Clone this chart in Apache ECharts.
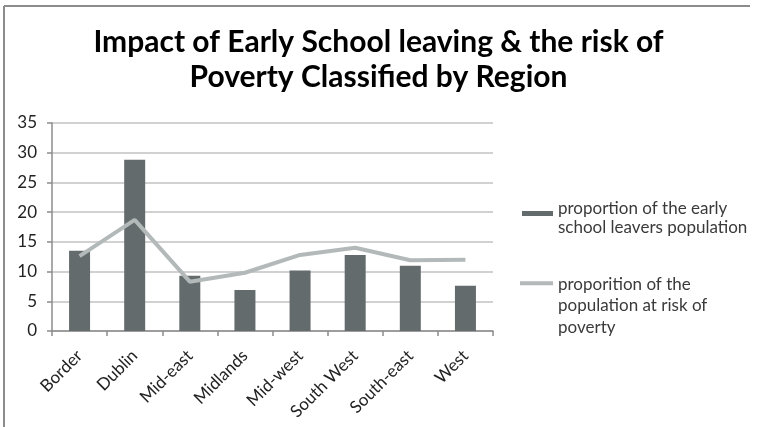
<!DOCTYPE html>
<html>
<head>
<meta charset="utf-8">
<script src="https://cdn.jsdelivr.net/npm/echarts@6/dist/echarts.min.js"></script>
<style>
html,body{margin:0;padding:0;background:#fff;}
#chart{width:757px;height:427px;}
</style>
</head>
<body>
<div id="chart"></div>
<script>
var categories = ['Border', 'Dublin', 'Mid-east', 'Midlands', 'Mid-west', 'South West', 'South-east', 'West'];
var earlySchoolLeavers = [13.5, 28.8, 9.3, 6.9, 10.2, 12.8, 11.0, 7.6];
var riskOfPoverty = [12.6, 18.7, 8.3, 9.8, 12.8, 14.0, 11.9, 12.0];
var yTicks = [0, 5, 10, 15, 20, 25, 30, 35];
var barName = 'proportion of the early school leavers population';
var lineName = 'proporition of the population at risk of poverty';
var barLegendLines = ['proportion of the early', 'school leavers population'];
var lineLegendLines = ['proporition of the', 'population at risk of', 'poverty'];
var titleText = 'Impact of Early School leaving & the risk of\nPoverty Classified by Region';

var FONT = 'Lato, "Open Sans", sans-serif';
function legendRich(lines) {
  return '{s|\u00a0}\n' + lines.map(function (l) { return '{t|' + l + '}'; }).join('\n');
}
var chart = echarts.init(document.getElementById('chart'), null, {renderer: 'canvas'});
chart.setOption({
  backgroundColor: '#ffffff',
  animation: false,
  title: {
    text: titleText,
    left: 'center',
    top: 20,
    textStyle: {fontFamily: FONT, fontWeight: 'bold', fontSize: 30, color: '#000', lineHeight: 35}
  },
  graphic: [
    {type: 'line', shape: {x1: 4, y1: 6, x2: 750, y2: 6}, style: {stroke: '#8c8c8c', lineWidth: 2}},
    {type: 'line', shape: {x1: 4, y1: 6, x2: 4, y2: 427}, style: {stroke: '#8c8c8c', lineWidth: 2}}
  ],
  legend: [
    {
      data: [{name: barName, icon: 'rect'}],
      left: 522,
      top: 192.5,
      padding: 0,
      orient: 'vertical',
      itemWidth: 31,
      itemHeight: 5,
      itemGap: 0,
      formatter: function () { return legendRich(barLegendLines); },
      textStyle: {
        fontFamily: FONT, fontSize: 17, color: '#3a3a3a',
        rich: {
          s: {fontSize: 4, lineHeight: 9},
          t: {fontFamily: FONT, fontSize: 17, color: '#3a3a3a', lineHeight: 19}
        }
      }
    },
    {
      data: [{name: lineName, icon: 'rect'}],
      left: 520,
      top: 249,
      padding: 0,
      orient: 'vertical',
      itemWidth: 33,
      itemHeight: 4,
      itemGap: 0,
      formatter: function () { return legendRich(lineLegendLines); },
      textStyle: {
        fontFamily: FONT, fontSize: 17, color: '#3a3a3a',
        rich: {
          s: {fontSize: 4, lineHeight: 45},
          t: {fontFamily: FONT, fontSize: 17, color: '#3a3a3a', lineHeight: 21.5}
        }
      }
    }
  ],
  grid: {left: 52, right: 264, top: 123, bottom: 96, containLabel: false},
  xAxis: {
    type: 'category',
    data: categories,
    boundaryGap: true,
    axisLine: {lineStyle: {color: '#8c8c8c', width: 1.5}},
    axisTick: {show: true, length: 5, lineStyle: {color: '#8c8c8c', width: 1.5}},
    axisLabel: {rotate: 45, fontFamily: FONT, fontSize: 17, color: '#222', margin: 22, interval: 0}
  },
  yAxis: {
    type: 'value',
    min: 0,
    max: 35,
    interval: 5,
    axisLine: {show: true, lineStyle: {color: '#8c8c8c', width: 1.5}},
    axisTick: {show: true, length: 5, lineStyle: {color: '#8c8c8c', width: 1.5}},
    splitLine: {lineStyle: {color: '#c2c2c2', width: 1.5}},
    axisLabel: {fontFamily: FONT, fontSize: 17, color: '#222', margin: 15,
      formatter: function (v) { return yTicks.indexOf(v) >= 0 ? String(v) : ''; }}
  },
  series: [
    {
      name: barName,
      type: 'bar',
      data: earlySchoolLeavers,
      barWidth: 21,
      itemStyle: {color: '#646b6d'}
    },
    {
      name: lineName,
      type: 'line',
      data: riskOfPoverty,
      symbol: 'none',
      lineStyle: {color: '#b3b9b9', width: 4},
      itemStyle: {color: '#b3b9b9'}
    }
  ]
});
</script>
</body>
</html>
